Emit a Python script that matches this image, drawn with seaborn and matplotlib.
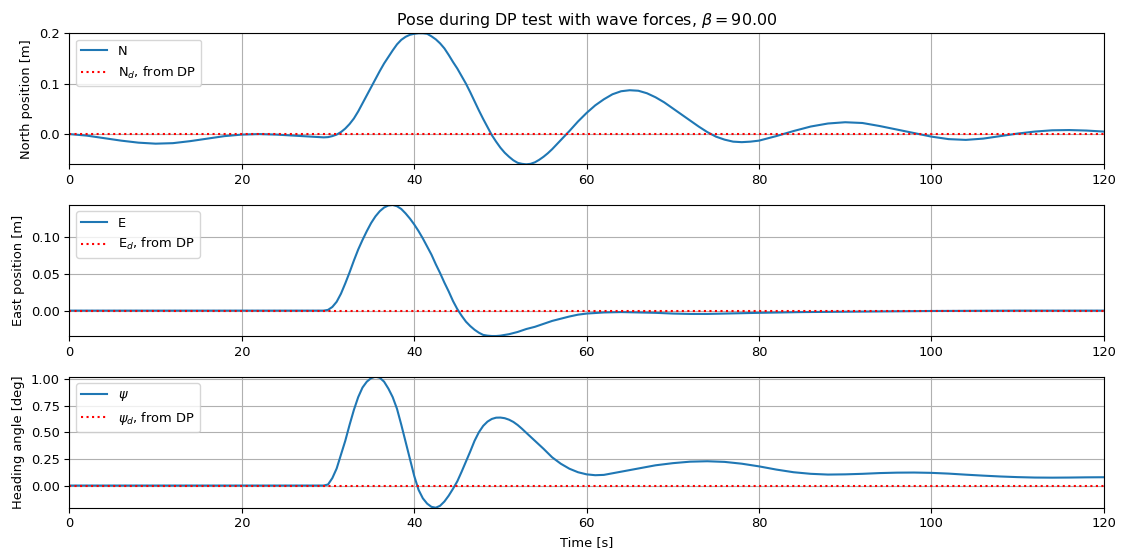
import matplotlib
matplotlib.use("Agg")
import matplotlib.pyplot as plt
from matplotlib.ticker import MultipleLocator
import seaborn as sns

# ---- North position ----
t_N = [0, 2, 4, 6, 8, 10, 12, 14, 16, 18, 20, 22, 24, 26, 28, 29.5, 30, 30.5, 31,
       31.5, 32, 32.5, 33, 33.5, 34, 34.5, 35, 35.5, 36, 36.5, 37, 37.5, 38, 38.5,
       39, 39.5, 40, 40.5, 41, 41.5, 42, 42.5, 43, 43.5, 44, 44.5, 45, 45.5, 46,
       46.5, 47, 47.5, 48, 48.5, 49, 49.5, 50, 50.5, 51, 51.5, 52, 52.5, 53, 53.5,
       54, 54.5, 55, 55.5, 56, 56.5, 57, 57.5, 58, 59, 60, 61, 62, 63, 64, 65, 66,
       67, 68, 69, 70, 71, 72, 73, 74, 75, 76, 77, 78, 79, 80, 82, 84, 86, 88, 90,
       92, 94, 96, 98, 100, 102, 104, 106, 108, 110, 112, 114, 116, 118, 120]
N = [0.0, -0.003, -0.008, -0.013, -0.017, -0.019, -0.018, -0.014, -0.009, -0.004,
     -0.001, 0.0, -0.001, -0.003, -0.005, -0.0065, -0.006, -0.004, -0.001,
     0.004, 0.011, 0.02, 0.031, 0.045, 0.061, 0.077, 0.093, 0.109, 0.125, 0.14,
     0.153, 0.166, 0.178, 0.187, 0.193, 0.197, 0.199, 0.2, 0.2, 0.199, 0.194,
     0.188, 0.18, 0.17, 0.157, 0.143, 0.13, 0.115, 0.1, 0.083, 0.065, 0.047,
     0.03, 0.014, -0.002, -0.015, -0.027, -0.037, -0.045, -0.052, -0.057, -0.059,
     -0.06, -0.059, -0.056, -0.051, -0.045, -0.038, -0.03, -0.021, -0.012,
     -0.003, 0.006, 0.025, 0.042, 0.057, 0.069, 0.079, 0.085, 0.087, 0.086,
     0.081, 0.073, 0.063, 0.051, 0.039, 0.027, 0.015, 0.004, -0.005, -0.011,
     -0.015, -0.016, -0.015, -0.013, -0.004, 0.006, 0.015, 0.021, 0.0235,
     0.022, 0.016, 0.009, 0.002, -0.005, -0.010, -0.0115, -0.009, -0.004, 0.001,
     0.005, 0.0075, 0.008, 0.007, 0.005]

# ---- East position ----
t_E = [0, 10, 20, 29.5, 30, 30.5, 31, 31.5, 32, 32.5, 33, 33.5, 34, 34.5, 35,
       35.5, 36, 36.5, 37, 37.5, 38, 38.5, 39, 39.5, 40, 40.5, 41, 41.5, 42, 42.5,
       43, 43.5, 44, 44.5, 45, 45.5, 46, 46.5, 47, 47.5, 48, 48.5, 49, 49.5, 50,
       51, 52, 53, 54, 55, 56, 57, 58, 59, 60, 62, 64, 66, 68, 70, 72, 74, 76, 78,
       80, 85, 90, 95, 100, 110, 120]
E = [0.0, 0.0, 0.0, 0.0, 0.001, 0.005, 0.012, 0.023, 0.037, 0.052, 0.068, 0.083,
     0.096, 0.108, 0.119, 0.128, 0.135, 0.14, 0.1428, 0.1435, 0.1418, 0.138,
     0.132, 0.125, 0.117, 0.108, 0.098, 0.087, 0.076, 0.063, 0.051, 0.038, 0.026,
     0.013, 0.002, -0.007, -0.015, -0.021, -0.026, -0.03, -0.033, -0.034,
     -0.0345, -0.0345, -0.034, -0.032, -0.029, -0.025, -0.022, -0.018, -0.014,
     -0.011, -0.008, -0.0055, -0.004, -0.0025, -0.002, -0.0025, -0.003, -0.004,
     -0.0045, -0.0045, -0.004, -0.0035, -0.003, -0.002, -0.0015, -0.001,
     -0.0005, 0.0, 0.0]

# ---- Heading angle ----
t_psi = [0, 10, 20, 29.5, 30, 30.5, 31, 31.5, 32, 32.5, 33, 33.5, 34, 34.5, 35,
         35.5, 36, 36.5, 37, 37.5, 38, 38.5, 39, 39.5, 40, 40.5, 41, 41.5, 42,
         42.5, 43, 43.5, 44, 44.5, 45, 45.5, 46, 46.5, 47, 47.5, 48, 48.5, 49,
         49.5, 50, 50.5, 51, 51.5, 52, 52.5, 53, 54, 55, 56, 57, 58, 59, 60, 61,
         62, 64, 66, 68, 70, 72, 74, 76, 78, 80, 82, 84, 86, 88, 90, 92, 94, 96,
         98, 100, 102, 104, 106, 108, 110, 112, 114, 116, 118, 120]
psi = [0.0, 0.0, 0.0, 0.0, 0.01, 0.07, 0.16, 0.29, 0.42, 0.57, 0.71, 0.83, 0.92,
       0.975, 1.008, 1.022, 1.012, 0.975, 0.91, 0.83, 0.72, 0.57, 0.41, 0.25,
       0.09, -0.04, -0.12, -0.17, -0.2, -0.208, -0.19, -0.15, -0.095, -0.03, 0.04,
       0.13, 0.225, 0.32, 0.42, 0.5, 0.56, 0.6, 0.625, 0.637, 0.638, 0.632, 0.618,
       0.597, 0.568, 0.533, 0.495, 0.42, 0.345, 0.265, 0.205, 0.158, 0.125, 0.105,
       0.097, 0.1, 0.13, 0.16, 0.19, 0.21, 0.224, 0.228, 0.222, 0.205, 0.18, 0.15,
       0.125, 0.11, 0.103, 0.105, 0.11, 0.117, 0.121, 0.122, 0.119, 0.112, 0.102,
       0.093, 0.085, 0.079, 0.075, 0.074, 0.075, 0.077, 0.078]

# ---- Desired (from DP) ----
t_d = [0, 120]
N_d = [0.0, 0.0]
E_d = [0.0, 0.0]
psi_d = [0.0, 0.0]

title = r"Pose during DP test with wave forces, $\beta = 90.00$"
ylabels = ["North position [m]", "East position [m]", "Heading angle [deg]"]
labels = [("N", r"N$_d$, from DP"), ("E", r"E$_d$, from DP"),
          (r"$\psi$", r"$\psi_d$, from DP")]
ytick_steps = [0.1, 0.05, 0.25]

plt.rcParams["font.family"] = ["DejaVu Sans"]
plt.rcParams["font.size"] = 9.4
fig, axes = plt.subplots(3, 1, figsize=(11.24, 5.5), dpi=100)
fig.subplots_adjust(left=0.0618, right=0.982, top=0.9395, bottom=0.0769, hspace=0.31)

series = [(t_N, N, N_d), (t_E, E, E_d), (t_psi, psi, psi_d)]
for ax, (t, y, yd), (lab, labd), yl, st in zip(axes, series, labels, ylabels, ytick_steps):
    sns.lineplot(x=t, y=y, ax=ax, color="#1f77b4", linewidth=1.5, label=lab,
                 sort=False, legend=False)
    sns.lineplot(x=t_d, y=yd, ax=ax, color="red", linestyle=":", linewidth=1.5,
                 label=labd, sort=False, legend=False)
    ax.set_xlim(0, 120)
    ax.set_ylim(min(min(y), min(yd)), max(max(y), max(yd)))
    ax.yaxis.set_major_locator(MultipleLocator(st))
    ax.grid(True)
    ax.set_ylabel(yl)
    ax.set_xlabel("")
    ax.legend(loc="upper left")

axes[0].set_title(title, fontsize=11.4)
axes[2].set_xlabel("Time [s]")

fig.savefig("out.png", dpi=100)
